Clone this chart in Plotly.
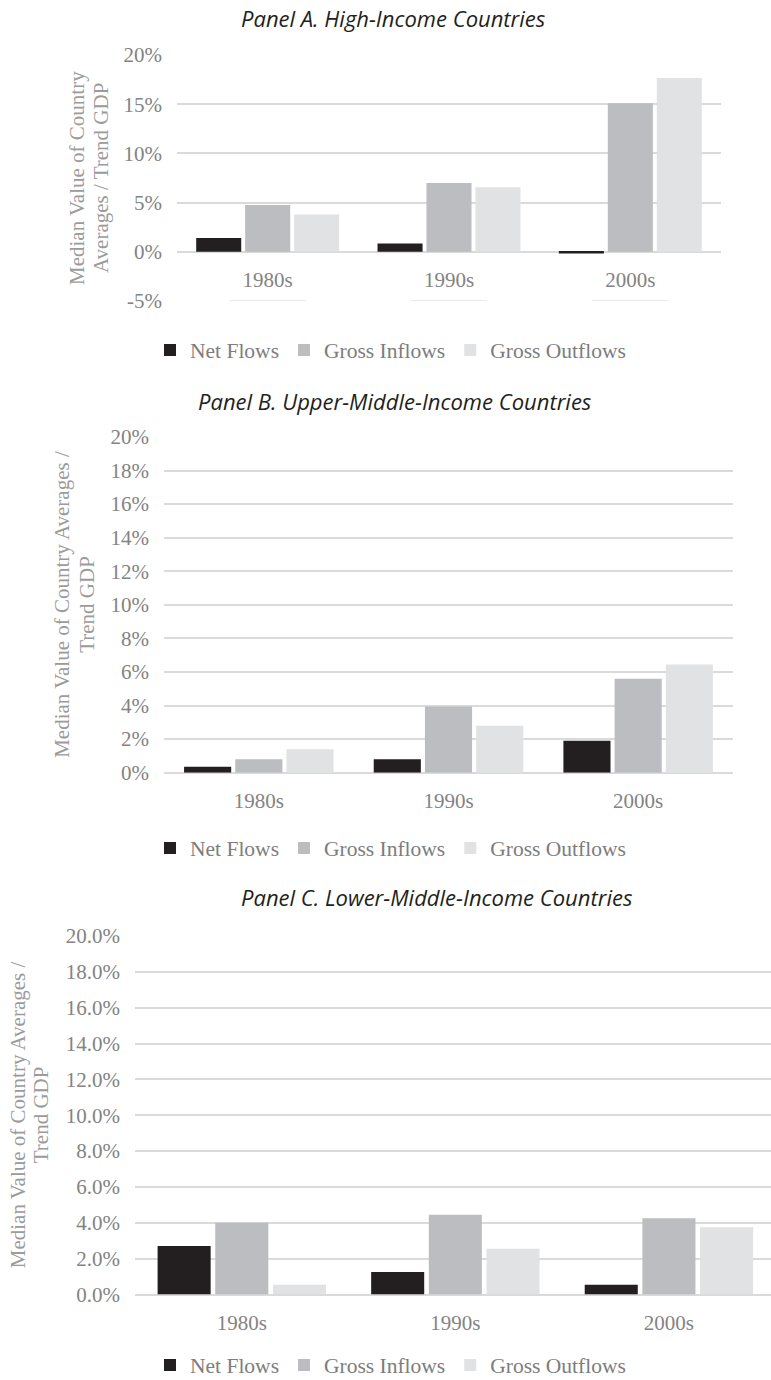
import plotly.graph_objects as go

# Categories and series
decades = ["1980s", "1990s", "2000s"]
series_names = ["Net Flows", "Gross Inflows", "Gross Outflows"]
series_colors = ["#231f20", "#bcbdc0", "#e1e2e3"]

# Median value of country averages, percent of trend GDP
high_net = [1.4, 0.85, -0.18]
high_inflows = [4.75, 7.0, 15.1]
high_outflows = [3.8, 6.55, 17.65]

upper_mid_net = [0.35, 0.8, 1.9]
upper_mid_inflows = [0.8, 3.95, 5.6]
upper_mid_outflows = [1.4, 2.8, 6.45]

lower_mid_net = [2.7, 1.25, 0.55]
lower_mid_inflows = [4.0, 4.45, 4.25]
lower_mid_outflows = [0.55, 2.55, 3.75]

# Tick labels of the value axes
high_tickvals = [-5, 0, 5, 10, 15, 20]
high_ticktext = ["-5%", "0%", "5%", "10%", "15%", "20%"]
upper_tickvals = [0, 2, 4, 6, 8, 10, 12, 14, 16, 18, 20]
upper_ticktext = ["0%", "2%", "4%", "6%", "8%", "10%", "12%", "14%", "16%", "18%", "20%"]
lower_tickvals = [0, 2, 4, 6, 8, 10, 12, 14, 16, 18, 20]
lower_ticktext = ["0.0%", "2.0%", "4.0%", "6.0%", "8.0%", "10.0%", "12.0%",
                  "14.0%", "16.0%", "18.0%", "20.0%"]

panel_titles = [
    "Panel A. High-Income Countries",
    "Panel B. Upper-Middle-Income Countries",
    "Panel C. Lower-Middle-Income Countries",
]
axis_title_lines = [
    ["Median Value of Country", "Averages / Trend GDP"],
    ["Median Value of Country Averages /", "Trend GDP"],
    ["Median Value of Country Averages /", "Trend GDP"],
]

W, H = 771, 1380
SERIF = "Liberation Serif"
TICK_GRAY = "#838383"
TITLE_GRAY = "#9b9b9b"
GRID = "#dadada"


def px_x(v):
    return v / W


def px_y(v):
    return 1 - v / H


# layout geometry of each panel (pixels)
panels = [
    dict(data=[high_net, high_inflows, high_outflows],
         tickvals=high_tickvals, ticktext=high_ticktext,
         left=177, right=721, top=55, bottom=301,
         yrange=[-5, 20], xrange=[-0.5, 2.5],
         title_xy=(394, 18), ytitle_x=(77, 101), legend_y=350),
    dict(data=[upper_mid_net, upper_mid_inflows, upper_mid_outflows],
         tickvals=upper_tickvals, ticktext=upper_ticktext,
         left=164, right=733, top=437, bottom=772.7,
         yrange=[0, 20], xrange=[-0.5, 2.5],
         title_xy=(395, 401), ytitle_x=(62, 87), legend_y=848),
    dict(data=[lower_mid_net, lower_mid_inflows, lower_mid_outflows],
         tickvals=lower_tickvals, ticktext=lower_ticktext,
         left=135, right=771, top=936, bottom=1294.5,
         yrange=[0, 20], xrange=[-0.5, 2.478],
         title_xy=(437, 897), ytitle_x=(18, 41), legend_y=1365),
]

fig = go.Figure()
layout = dict(
    width=W, height=H,
    margin=dict(l=0, r=0, t=0, b=0, autoexpand=False),
    paper_bgcolor="white", plot_bgcolor="white",
    barmode="group", bargap=0.19, bargroupgap=0.08,
    font=dict(family=SERIF, color=TICK_GRAY, size=21),
    annotations=[], shapes=[],
)

for k, p in enumerate(panels, start=1):
    sfx = "" if k == 1 else str(k)
    leg = "legend" + sfx
    for name, color, vals in zip(series_names, series_colors, p["data"]):
        fig.add_trace(go.Bar(
            x=decades, y=vals, name=name,
            marker=dict(color=color, line=dict(width=0)),
            xaxis="x" + sfx, yaxis="y" + sfx, legend=leg,
            hoverinfo="skip",
        ))

    xa = dict(
        domain=[px_x(p["left"]), px_x(p["right"])],
        type="category", range=p["xrange"],
        showgrid=False, showline=False, zeroline=False, ticks="",
        tickfont=dict(family=SERIF, size=21, color=TICK_GRAY),
        ticklabelstandoff=13,
    )
    if k == 1:
        # category labels sit on the zero line, not at the plot bottom
        lo, hi = p["yrange"]
        zero_px = p["bottom"] - (0 - lo) / (hi - lo) * (p["bottom"] - p["top"])
        xa.update(anchor="free", position=px_y(zero_px))
    else:
        xa.update(anchor="y" + sfx)

    ya = dict(
        domain=[px_y(p["bottom"]), px_y(p["top"])],
        anchor="x" + sfx, range=p["yrange"],
        tickmode="array", tickvals=p["tickvals"], ticktext=p["ticktext"],
        showgrid=True, gridcolor=GRID, gridwidth=1.5,
        zeroline=True, zerolinecolor=GRID, zerolinewidth=1.5,
        showline=False, ticks="",
        tickfont=dict(family=SERIF, size=21, color=TICK_GRAY),
        ticklabelstandoff=14,
    )
    layout["xaxis" + sfx] = xa
    layout["yaxis" + sfx] = ya

    layout[leg] = dict(
        orientation="h", x=px_x(150), xanchor="left",
        y=px_y(p["legend_y"]), yanchor="middle",
        font=dict(family=SERIF, size=21.5, color="#7d7d7d"),
        bgcolor="rgba(0,0,0,0)", itemwidth=30, traceorder="normal",
        itemclick=False, itemdoubleclick=False,
    )

    tx, ty = p["title_xy"]
    layout["annotations"].append(dict(
        text="<i>" + panel_titles[k - 1] + "</i>",
        xref="paper", yref="paper", x=px_x(tx), y=px_y(ty),
        xanchor="center", yanchor="middle", showarrow=False,
        font=dict(family="Open Sans", size=22, color="#231f20"),
    ))
    mid_y = (p["top"] + p["bottom"]) / 2
    for line, lx in zip(axis_title_lines[k - 1], p["ytitle_x"]):
        layout["annotations"].append(dict(
            text=line, textangle=-90,
            xref="paper", yref="paper", x=px_x(lx), y=px_y(mid_y),
            xanchor="center", yanchor="middle", showarrow=False,
            font=dict(family=SERIF, size=21, color=TITLE_GRAY),
        ))

# label-area marks on the -5% line of the first panel
for i in range(len(decades)):
    layout["shapes"].append(dict(
        type="line", xref="x", yref="y",
        x0=i - 0.21, x1=i + 0.21, y0=-5.06, y1=-5.06,
        line=dict(color="#e2e2e2", width=2.5), layer="below",
    ))

fig.update_layout(**layout)
fig.write_html("out.html")
